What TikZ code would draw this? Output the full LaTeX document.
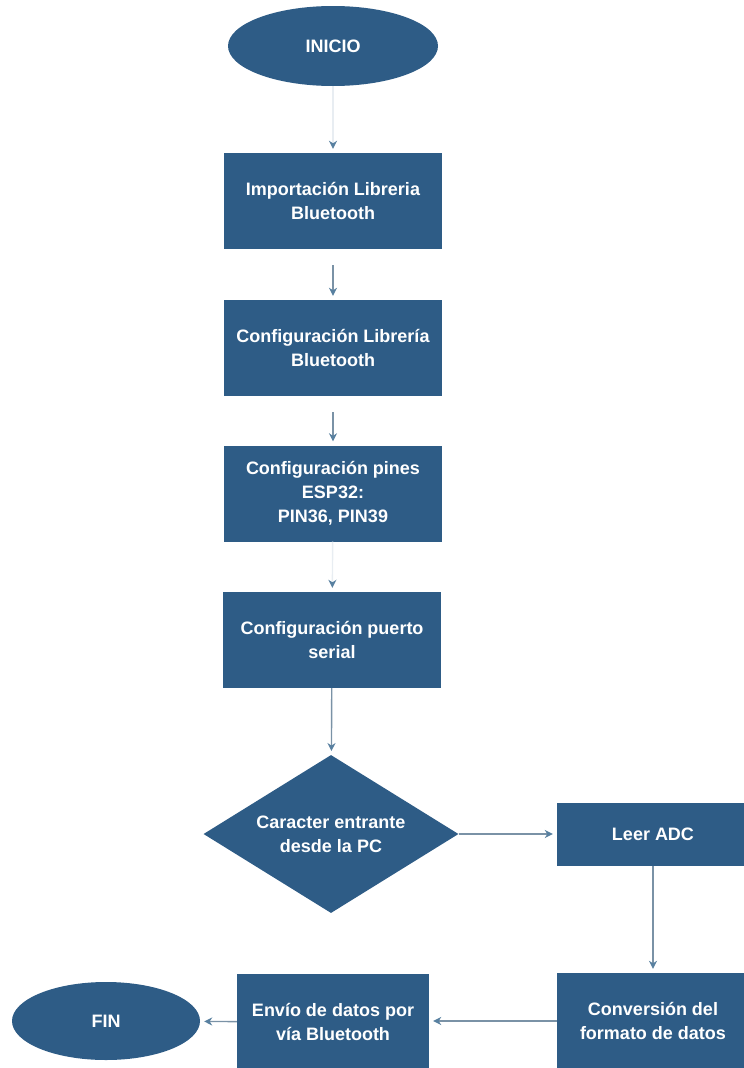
\documentclass[tikz,border=0pt]{standalone}
\usepackage{fontspec}
\setmainfont{Liberation Sans}
\usetikzlibrary{shapes.geometric,arrows.meta}
\definecolor{boxblue}{RGB}{46,92,134}
\definecolor{linkgray}{RGB}{122,146,166}
\definecolor{tipblue}{RGB}{88,128,160}
\definecolor{faintline}{RGB}{232,237,242}

\begin{document}
\begin{tikzpicture}[x=1pt,y=-1pt,
  every node/.style={font=\bfseries\fontsize{18}{24}\selectfont, text=white,
    align=center, inner sep=0pt},
  procbox/.style={fill=boxblue, minimum width=218pt, minimum height=96pt},
  narrowbox/.style={fill=boxblue, minimum width=192pt, minimum height=96pt},
  terminal/.style={ellipse, fill=boxblue},
  decision/.style={diamond, fill=boxblue, aspect=1.6,
    minimum width=255pt, minimum height=158pt},
  link/.style={draw=linkgray, line width=1.4pt, shorten >=4pt,
    -{Stealth[length=8pt,width=8pt,inset=2.5pt,color=tipblue]}},
  faintlink/.style={link, draw=faintline},
]
\useasboundingbox (0,0) rectangle (744,1068);

% main column
\node[terminal, minimum width=210pt, minimum height=80pt] (inicio) at (333,46) {INICIO};
\node[procbox] (imp) at (333,201) {Importación Libreria\\Bluetooth};
\node[procbox] (conf) at (333,348) {Configuración Librería\\Bluetooth};
\node[procbox] (pins) at (333,493.5) {Configuración pines\\ESP32:\\PIN36, PIN39};
\node[procbox] (serial) at (332,640) {Configuración puerto\\serial};
\node[decision] (dec) at (331,834) {Caracter entrante\\desde la PC};

% loop on the right and the way back
\node[fill=boxblue, minimum width=192pt, minimum height=63pt] (adc) at (653,834.5) {Leer ADC};
\node[narrowbox] (conv) at (653,1021) {Conversión del\\formato de datos};
\node[narrowbox] (envio) at (333,1022) {Envío de datos por\\vía Bluetooth};
\node[terminal, minimum width=188pt, minimum height=78pt] (fin) at (106,1021) {FIN};

% connectors
\draw[faintlink] (inicio) -- (imp);
\draw[link, shorten <=16pt] (imp) -- (conf);
\draw[link, shorten <=16pt] (conf) -- (pins);
\draw[faintlink] (pins) -- (serial);
\draw[link] (serial) -- (dec);
\draw[link] (dec.east) -- (dec.east -| adc.west);
\draw[link] (adc) -- (conv);
\draw[link] (conv.west) -- (conv.west -| envio.east);
\draw[link] (envio) -- (fin);
\end{tikzpicture}
\end{document}
